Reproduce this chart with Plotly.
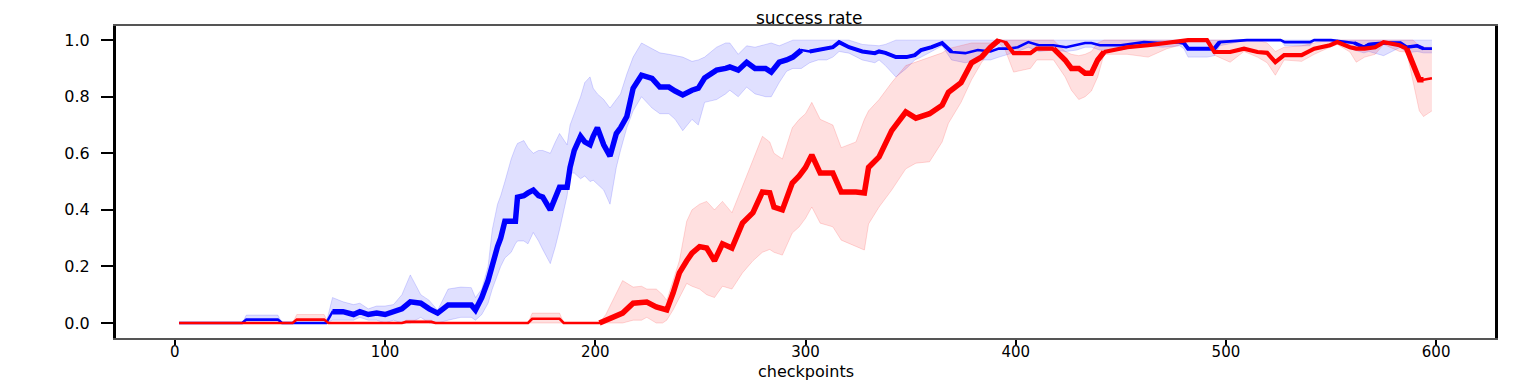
import plotly.graph_objects as go

blue_x = [2, 32, 34, 49, 51, 72, 75, 80, 85, 88, 92, 96, 100, 104, 108, 112, 117, 121, 125, 130,
          136, 141, 143, 146, 149, 151, 153.5, 155, 157, 160, 162, 163, 166, 168, 170.5, 173, 175,
          178.6, 181, 183, 186.6, 188, 190, 193, 195, 197.5, 199, 201, 204, 207, 210, 212, 215,
          218, 222, 227, 230.7, 235, 238, 241.6, 246, 249, 252, 257.7, 262, 264, 268, 272, 276,
          281, 283.7, 287.5, 291, 294, 298, 302, 306, 310, 313, 316, 320.7, 327, 333, 335, 338,
          343, 348, 352, 355, 360, 365, 369.5, 376, 382, 388, 392, 397, 401, 406, 411, 418, 424,
          429, 433, 436, 440, 450, 461, 470, 478, 480, 482, 485, 491, 494.5, 497, 510, 526, 528,
          540, 542, 550, 561, 565.6, 568, 575, 583, 586, 591, 594, 598]
blue_mean = [0, 0, 0.012, 0.012, 0, 0, 0.04, 0.04, 0.03, 0.04, 0.03, 0.035, 0.03, 0.04, 0.05,
             0.075, 0.07, 0.05, 0.035, 0.064, 0.064, 0.064, 0.046, 0.09, 0.15, 0.21, 0.27, 0.30,
             0.36, 0.36, 0.36, 0.445, 0.45, 0.46, 0.47, 0.45, 0.445, 0.40, 0.44, 0.48, 0.48, 0.55,
             0.61, 0.66, 0.64, 0.63, 0.66, 0.69, 0.63, 0.59, 0.67, 0.69, 0.73, 0.83, 0.876, 0.865,
             0.834, 0.834, 0.82, 0.806, 0.823, 0.83, 0.866, 0.894, 0.90, 0.905, 0.894, 0.922, 0.90,
             0.90, 0.887, 0.922, 0.93, 0.94, 0.965, 0.96, 0.965, 0.97, 0.975, 0.993, 0.975, 0.96,
             0.954, 0.96, 0.955, 0.94, 0.94, 0.947, 0.965, 0.975, 0.99, 0.958, 0.954, 0.965, 0.96,
             0.97, 0.97, 0.975, 0.993, 0.982, 0.982, 0.975, 0.982, 0.99, 0.99, 0.982, 0.982, 0.993,
             0.99, 0.993, 0.99, 0.97, 0.97, 0.97, 0.97, 0.993, 1.0, 1.0, 0.993, 0.993, 1.0, 1.0,
             0.99, 0.975, 0.985, 0.99, 0.99, 0.975, 0.98, 0.97, 0.97]
blue_lo = [0, 0, 0, 0, 0, 0, 0.01, 0.01, 0.01, 0.02, 0.01, 0.01, 0.0, 0.01, 0.0, 0.0, 0.02, 0.0,
           0.0, 0.01, 0.02, 0.02, 0.01, 0.03, 0.07, 0.12, 0.17, 0.20, 0.23, 0.25, 0.28, 0.29, 0.29,
           0.28, 0.32, 0.29, 0.26, 0.21, 0.27, 0.33, 0.45, 0.53, 0.53, 0.51, 0.52, 0.50, 0.505,
           0.49, 0.47, 0.42, 0.55, 0.61, 0.69, 0.75, 0.80, 0.76, 0.74, 0.74, 0.72, 0.68, 0.72,
           0.70, 0.78, 0.79, 0.81, 0.823, 0.80, 0.834, 0.81, 0.80, 0.80, 0.85, 0.89, 0.90, 0.90,
           0.92, 0.93, 0.93, 0.94, 0.96, 0.954, 0.93, 0.92, 0.93, 0.91, 0.87, 0.90, 0.93, 0.94,
           0.96, 0.98, 0.93, 0.92, 0.93, 0.93, 0.94, 0.95, 0.96, 0.975, 0.96, 0.965, 0.96, 0.965,
           0.975, 0.975, 0.965, 0.965, 0.98, 0.975, 0.98, 0.97, 0.94, 0.94, 0.94, 0.945, 0.98,
           1.0, 1.0, 0.98, 0.98, 1.0, 1.0, 0.965, 0.955, 0.96, 0.945, 0.975, 0.955, 0.96, 0.955,
           0.955]
blue_hi = [0, 0, 0.028, 0.028, 0, 0, 0.09, 0.075, 0.065, 0.07, 0.05, 0.06, 0.06, 0.065, 0.10,
           0.17, 0.10, 0.08, 0.045, 0.12, 0.127, 0.125, 0.09, 0.12, 0.20, 0.33, 0.42, 0.45, 0.50,
           0.58, 0.62, 0.635, 0.645, 0.62, 0.60, 0.61, 0.61, 0.60, 0.64, 0.67, 0.63, 0.70, 0.74,
           0.80, 0.85, 0.87, 0.83, 0.81, 0.79, 0.76, 0.79, 0.81, 0.88, 0.94, 0.99, 0.97, 0.955,
           0.95, 0.945, 0.94, 0.925, 0.93, 0.94, 0.975, 0.99, 0.99, 0.95, 0.98, 0.975, 0.985,
           0.99, 0.98, 0.99, 1.0, 1.0, 1.0, 1.0, 1.0, 1.0, 1.0, 1.0, 0.985, 0.98, 0.98, 0.985,
           1.0, 1.0, 1.0, 1.0, 1.0, 1.0, 1.0, 1.0, 1.0, 1.0, 1.0, 1.0, 1.0, 1.0, 1.0, 1.0, 1.0,
           1.0, 1.0, 1.0, 1.0, 1.0, 1.0, 1.0, 1.0, 1.0, 1.0, 1.0, 1.0, 1.0, 1.0, 1.0, 1.0, 1.0,
           1.0, 1.0, 1.0, 1.0, 1.0, 1.0, 1.0, 1.0, 1.0, 1.0, 1.0, 1.0]

red_x = [2, 56, 58, 71, 73, 108, 110, 122, 124, 168, 170, 183, 185, 202, 205, 208.5, 213, 218,
         222, 224.5, 229, 232, 234, 237, 240, 243.5, 246, 249.6, 253, 256.7, 260.5, 265, 270, 275,
         279.5, 283, 285, 289, 293.7, 297, 300, 303, 307, 313, 317, 324, 328, 330, 335, 341,
         347.7, 352.5, 359, 365, 368, 374, 379, 383.7, 388, 392, 395, 399, 407, 410, 418, 423.5,
         426.5, 430, 433, 436, 439, 442, 453, 463, 472, 477, 482, 491, 494.5, 502, 508.6, 515,
         519.6, 523.5, 527.7, 536, 542, 549.5, 553, 559, 562, 566, 571, 575, 582.6, 586, 589,
         592, 594, 598]
red_mean = [0, 0, 0.012, 0.012, 0, 0, 0.004, 0.004, 0, 0, 0.015, 0.015, 0, 0, 0.01, 0.018,
            0.035, 0.07, 0.07, 0.074, 0.057, 0.05, 0.046, 0.106, 0.177, 0.22, 0.247, 0.27, 0.265,
            0.22, 0.28, 0.265, 0.353, 0.39, 0.463, 0.46, 0.41, 0.40, 0.495, 0.52, 0.55, 0.594,
            0.53, 0.53, 0.463, 0.463, 0.46, 0.55, 0.587, 0.68, 0.746, 0.724, 0.74, 0.77, 0.816,
            0.85, 0.92, 0.94, 0.975, 1.0, 0.993, 0.954, 0.954, 0.97, 0.97, 0.93, 0.90, 0.90,
            0.883, 0.883, 0.93, 0.958, 0.975, 0.982, 0.99, 0.993, 1.0, 1.0, 0.958, 0.958, 0.97,
            0.958, 0.955, 0.922, 0.947, 0.947, 0.97, 0.982, 0.993, 0.975, 0.97, 0.97, 0.975,
            0.993, 0.982, 0.97, 0.92, 0.86, 0.86, 0.865]
red_lo = [0, 0, 0, 0, 0, 0, 0, 0, 0, 0, 0, 0, 0, 0, 0, 0, 0, 0.01, 0.01, 0.02, 0.0, 0.0, 0.01,
          0.046, 0.09, 0.14, 0.13, 0.12, 0.10, 0.09, 0.13, 0.12, 0.177, 0.22, 0.25, 0.26, 0.25,
          0.24, 0.318, 0.34, 0.37, 0.41, 0.353, 0.34, 0.293, 0.27, 0.258, 0.35, 0.41, 0.47, 0.545,
          0.565, 0.57, 0.64, 0.706, 0.78, 0.86, 0.92, 0.965, 0.99, 0.965, 0.887, 0.90, 0.93, 0.93,
          0.87, 0.823, 0.79, 0.80, 0.82, 0.87, 0.95, 0.95, 0.94, 0.97, 0.98, 1.0, 1.0, 0.947,
          0.922, 0.96, 0.94, 0.92, 0.876, 0.93, 0.925, 0.95, 0.975, 0.985, 0.958, 0.922, 0.94,
          0.95, 0.985, 0.96, 0.958, 0.85, 0.75, 0.73, 0.75]
red_hi = [0, 0, 0.03, 0.03, 0, 0, 0.01, 0.01, 0, 0, 0.035, 0.035, 0, 0, 0.03, 0.08, 0.15, 0.127,
          0.13, 0.12, 0.12, 0.10, 0.08, 0.15, 0.22, 0.36, 0.40, 0.42, 0.43, 0.40, 0.43, 0.39, 0.48,
          0.576, 0.66, 0.64, 0.60, 0.58, 0.69, 0.72, 0.74, 0.78, 0.72, 0.70, 0.62, 0.64, 0.72,
          0.75, 0.79, 0.85, 0.91, 0.922, 0.94, 0.955, 0.97, 0.98, 0.99, 0.99, 0.99, 1.0, 1.0, 1.0,
          1.0, 1.0, 1.0, 0.96, 0.95, 0.945, 0.95, 0.96, 0.99, 1.0, 1.0, 1.0, 1.0, 1.0, 1.0, 1.0,
          1.0, 1.0, 1.0, 1.0, 0.99, 0.96, 0.975, 0.98, 0.99, 1.0, 1.0, 1.0, 1.0, 1.0, 1.0, 1.0,
          1.0, 1.0, 1.0, 0.98, 0.975, 0.975]

x_ticks = [0, 100, 200, 300, 400, 500, 600]
y_ticks = [0.0, 0.2, 0.4, 0.6, 0.8, 1.0]

FONT = "DejaVu Sans"

# the mean line looks heavier where the curve is noisy; (start, end, width) overlays
blue_heavy = [(73, 300, 5.5), (300, 372, 4.0), (478, 498, 4.0), (558, 596, 3.6)]
red_heavy = [(200, 394, 5.5), (394, 418, 4.2), (418, 442, 5.5), (442, 586, 4.2), (586, 594, 5.5)]


def band(x, lo, hi, rgb):
    # upper edge first, then lower edge filled up to it
    edge = dict(color=f"rgba({rgb},0.15)", width=1)
    return [
        go.Scatter(x=x, y=hi, mode="lines", line=edge, hoverinfo="skip", showlegend=False),
        go.Scatter(x=x, y=lo, mode="lines", line=edge, fill="tonexty",
                   fillcolor=f"rgba({rgb},0.12)", hoverinfo="skip", showlegend=False),
    ]


def mean_line(x, y, color, heavy):
    traces = [go.Scatter(x=x, y=y, mode="lines", line=dict(color=color, width=2.6),
                         showlegend=False)]
    for a, b, w in heavy:
        xs = [xi for xi in x if a <= xi <= b]
        ys = [yi for xi, yi in zip(x, y) if a <= xi <= b]
        traces.append(go.Scatter(x=xs, y=ys, mode="lines", hoverinfo="skip",
                                 line=dict(color=color, width=w), showlegend=False))
    return traces


fig = go.Figure()
fig.add_traces(band(blue_x, blue_lo, blue_hi, "0,0,255"))
fig.add_traces(band(red_x, red_lo, red_hi, "255,0,0"))
fig.add_traces(mean_line(blue_x, blue_mean, "rgb(0,0,255)", blue_heavy))
fig.add_traces(mean_line(red_x, red_mean, "rgb(255,0,0)", red_heavy))

# the page body keeps an 8px margin, so the figure is 8px smaller than the window
fig.update_layout(
    width=1516,
    height=374,
    margin=dict(l=108, r=29, t=18, b=44),
    paper_bgcolor="white",
    plot_bgcolor="white",
    font=dict(family=FONT, color="black"),
    title=dict(text="success rate", x=0.5285, xanchor="center", y=0.99, yanchor="top",
               pad=dict(t=0, b=0), font=dict(family=FONT, size=17, color="black")),
    xaxis=dict(
        range=[-28, 628],
        automargin=False,
        tickvals=x_ticks,
        ticktext=[str(v) for v in x_ticks],
        ticks="outside", ticklen=5, tickwidth=2, tickcolor="black",
        ticklabelstandoff=-6,
        tickfont=dict(family=FONT, size=15, color="black"),
        showgrid=False, zeroline=False,
        showline=True, linecolor="#555555", linewidth=2, mirror=True,
    ),
    yaxis=dict(
        range=[-0.053, 1.05],
        automargin=False,
        tickvals=y_ticks,
        ticktext=[f"{v:.1f}" for v in y_ticks],
        ticks="outside", ticklen=12, tickwidth=2, tickcolor="black",
        ticklabelstandoff=8,
        tickfont=dict(family=FONT, size=16, color="black"),
        showgrid=False, zeroline=False,
        showline=True, linecolor="black", linewidth=3, mirror=True,
    ),
    annotations=[dict(text="checkpoints", x=0.5, y=0, xref="paper", yref="paper",
                      xanchor="center", yanchor="top", yshift=-22, showarrow=False,
                      font=dict(family=FONT, size=16, color="black"))],
)

fig.write_html("out.html")
